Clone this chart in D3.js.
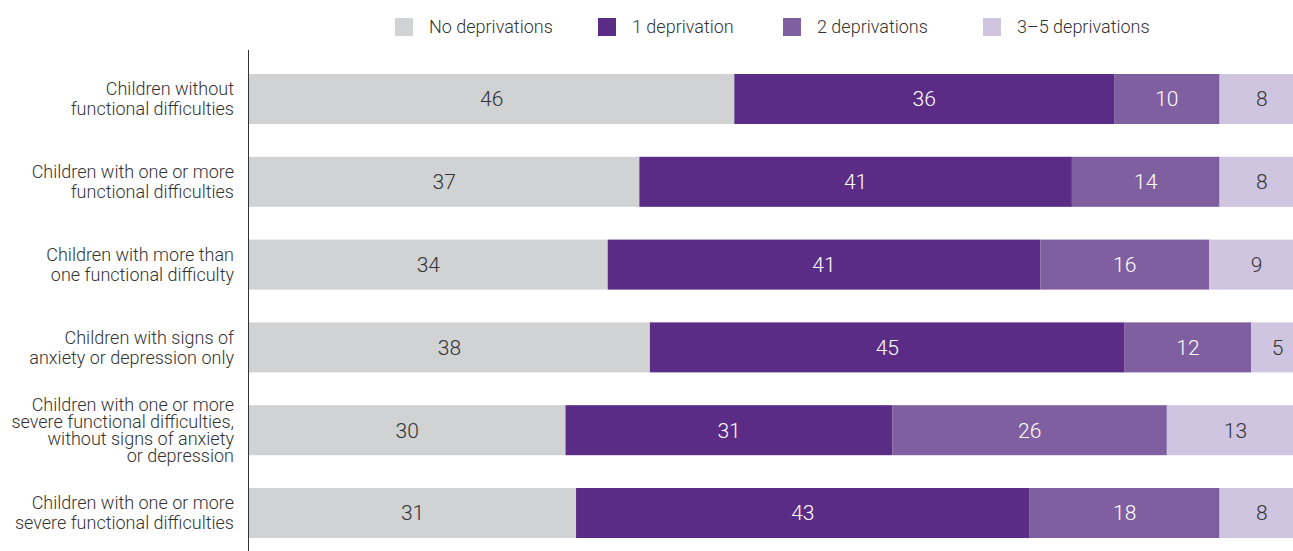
<html lang="en">
<head>
<meta charset="utf-8">
<title>Deprivations by functional difficulty</title>
<style>
    body { margin: 0; background: white; }
    svg { display: block; background: white; }
    text { font-family: Roboto, "Noto Sans", sans-serif; font-weight: 300; fill: #333333; }
    .cat { font-size: 18px; }
    .legend text { font-size: 18px; }
    .val { font-size: 21px; }
    .axis { stroke: #333333; stroke-width: 1; }
</style>
</head>
<body>
<div id="chart"></div>
<script src="https://d3js.org/d3.v7.min.js"></script>
<script>
// data (percent)
var categories = [
    ["Children without", "functional difficulties"],
    ["Children with one or more", "functional difficulties"],
    ["Children with more than", "one functional difficulty"],
    ["Children with signs of", "anxiety or depression only"],
    ["Children with one or more", "severe functional difficulties,", "without signs of anxiety", "or depression"],
    ["Children with one or more", "severe functional difficulties"]
];
var seriesNames = ["No deprivations", "1 deprivation", "2 deprivations", "3\u20135 deprivations"];
var noDep   = [46, 37, 34, 38, 30, 31];
var oneDep  = [36, 41, 41, 45, 31, 43];
var twoDep  = [10, 14, 16, 12, 26, 18];
var threeDep = [8, 8, 9, 5, 13, 8];

var colors = ["#d1d2d4", "#5b2c86", "#7f5f9f", "#d0c5e0"];
var labelColors = ["#333333", "#ffffff", "#ffffff", "#333333"];

var width = 1293, height = 551;

var svg = d3.select("#chart")
    .append("svg")
    .attr("width", width)
    .attr("height", height);

// the last segment runs past the right edge, as in the original
var x = d3.scaleLinear()
    .domain([0, 100])
    .range([249, 1304]);

var y = d3.scaleBand()
    .domain(d3.range(categories.length))
    .range([74, 538])
    .paddingInner(0.396)
    .paddingOuter(0);

var rows = categories.map(function(c, i) {
    return [noDep[i], oneDep[i], twoDep[i], threeDep[i]];
});

var series = d3.stack().keys([0, 1, 2, 3])(rows);

var layer = svg.selectAll(".layer")
    .data(series)
    .enter().append("g")
    .attr("class", "layer")
    .attr("fill", function(d) { return colors[d.key]; });

layer.selectAll("rect")
    .data(function(d) { return d; })
    .enter().append("rect")
    .attr("x", function(d) { return x(d[0]); })
    .attr("y", function(d, i) { return y(i); })
    .attr("width", function(d) { return x(d[1]) - x(d[0]); })
    .attr("height", y.bandwidth());

layer.selectAll("text")
    .data(function(d) { return d.map(function(p) { return { p: p, key: d.key }; }); })
    .enter().append("text")
    .attr("class", "val")
    .attr("x", function(d) { return (x(d.p[0]) + x(d.p[1])) / 2; })
    .attr("y", function(d, i) { return y(i) + y.bandwidth() / 2; })
    .attr("dy", "0.35em")
    .attr("text-anchor", "middle")
    .style("fill", function(d) { return labelColors[d.key]; })
    .text(function(d) { return d.p.data[d.key]; });

// vertical axis line
svg.append("line")
    .attr("class", "axis")
    .attr("x1", 248.5).attr("x2", 248.5)
    .attr("y1", 50).attr("y2", height);

// category labels
var cat = svg.selectAll(".cat")
    .data(categories)
    .enter().append("text")
    .attr("class", "cat")
    .attr("text-anchor", "end")
    .attr("transform", function(d, i) {
        return "translate(234," + (y(i) + y.bandwidth() / 2) + ")";
    });

cat.selectAll("tspan")
    .data(function(d) {
        var lh = d.length > 2 ? 16.8 : 20;
        return d.map(function(t, k) { return { t: t, dy: (k - (d.length - 1) / 2) * lh }; });
    })
    .enter().append("tspan")
    .attr("x", 0)
    .attr("y", function(d) { return d.dy; })
    .attr("dy", "0.35em")
    .text(function(d) { return d.t; });

// legend
var legendX = [395, 598, 783, 983];
var legend = svg.append("g").attr("class", "legend")
    .selectAll("g")
    .data(seriesNames)
    .enter().append("g")
    .attr("transform", function(d, i) { return "translate(" + legendX[i] + ",18)"; });

legend.append("rect")
    .attr("width", 18).attr("height", 18)
    .attr("fill", function(d, i) { return colors[i]; });

legend.append("text")
    .attr("x", 34).attr("y", 9)
    .attr("dy", "0.35em")
    .text(function(d) { return d; });
</script>
</body>
</html>
